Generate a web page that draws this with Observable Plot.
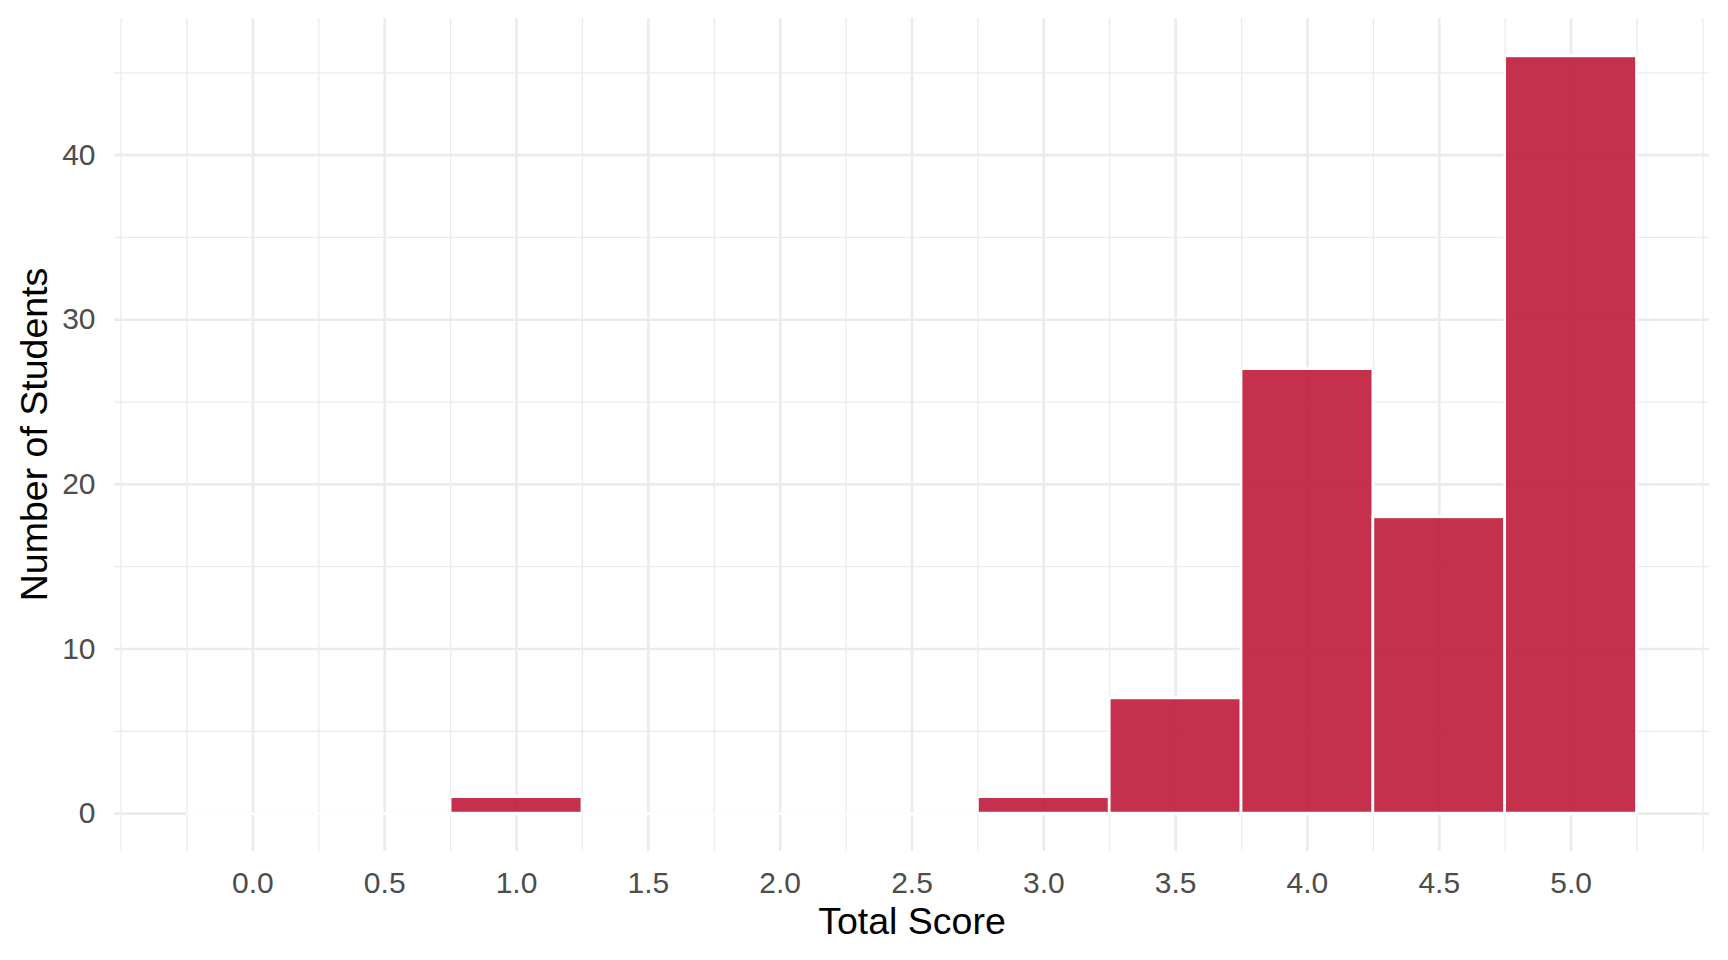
<!DOCTYPE html>
<html>
<head>
<meta charset="utf-8">
<script src="https://cdn.jsdelivr.net/npm/d3@7"></script>
<script src="https://cdn.jsdelivr.net/npm/@observablehq/plot@0.6"></script>
<style>
  html, body { margin: 0; padding: 0; background: #ffffff; }
</style>
</head>
<body>
<div id="chart"></div>
<script>
// Histogram bins (centres), counts and axis ticks
const binCenters = [0, 0.5, 1, 1.5, 2, 2.5, 3, 3.5, 4, 4.5, 5];
const counts = [0, 0, 1, 0, 0, 0, 1, 7, 27, 18, 46];
const binWidth = 0.5;
const xTicks = [0, 0.5, 1, 1.5, 2, 2.5, 3, 3.5, 4, 4.5, 5];
const xMinor = [-0.5, -0.25, 0.25, 0.75, 1.25, 1.75, 2.25, 2.75, 3.25, 3.75, 4.25, 4.75, 5.25, 5.5];
const yTicks = [0, 10, 20, 30, 40];
const yMinor = [5, 15, 25, 35, 45];
const xLabel = "Total Score";
const yLabel = "Number of Students";

const bins = binCenters.map((c, i) => ({x0: c - binWidth / 2, x1: c + binWidth / 2, count: counts[i]}));

const grid = "#EBEBEB";
const plot = Plot.plot({
  width: 1728,
  height: 960,
  marginLeft: 114,
  marginRight: 19,
  marginTop: 18,
  marginBottom: 109,
  style: {fontFamily: "'Liberation Sans', Arial, sans-serif", background: "white"},
  x: {domain: [-0.525, 5.525]},
  y: {domain: [-2.3, 48.3]},
  marks: [
    Plot.ruleX(xMinor, {stroke: grid, strokeWidth: 1.3}),
    Plot.ruleY(yMinor, {stroke: grid, strokeWidth: 1.3}),
    Plot.ruleX(xTicks, {stroke: grid, strokeWidth: 2.6}),
    Plot.ruleY(yTicks, {stroke: grid, strokeWidth: 2.6}),
    Plot.rect(bins.filter(d => d.count > 0), {
      x1: "x0", x2: "x1", y1: 0, y2: "count",
      fill: "#BF1A3A", fillOpacity: 0.9, stroke: "white", strokeWidth: 2.7
    }),
    Plot.ruleY(bins, {y: 0, x1: "x0", x2: "x1", stroke: "white", strokeWidth: 2.7}),
    Plot.axisX(xTicks, {
      anchor: "bottom", tickSize: 0, tickPadding: 20, fontSize: 30,
      color: "#4D4D4D", tickFormat: d3.format(".1f"), label: null
    }),
    Plot.axisY(yTicks, {
      anchor: "left", tickSize: 0, tickPadding: 19, fontSize: 30,
      color: "#4D4D4D", label: null
    }),
    Plot.text([xLabel], {
      frameAnchor: "bottom", textAnchor: "middle", lineAnchor: "middle",
      dy: 70, fontSize: 37.5, fill: "black", text: d => d
    }),
    Plot.text([yLabel], {
      frameAnchor: "left", textAnchor: "middle", lineAnchor: "middle",
      rotate: -90, dx: -79.3, dy: -0.5, fontSize: 37.5, fill: "black", text: d => d
    })
  ]
});
document.getElementById("chart").appendChild(plot);
</script>
</body>
</html>
